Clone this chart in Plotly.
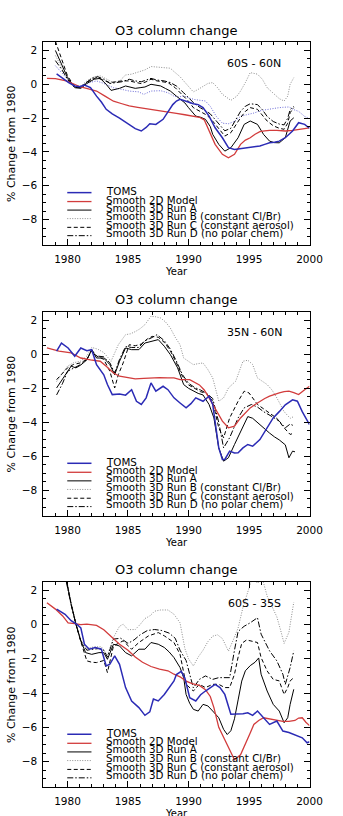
import plotly.graph_objects as go

# ---------------- data ----------------
region_labels = ["60S - 60N", "35N - 60N", "60S - 35S"]
series_names = ["TOMS", "Smooth 2D Model", "Smooth 3D Run A",
                "Smooth 3D Run B (constant Cl/Br)", "Smooth 3D Run C (constant aerosol)",
                "Smooth 3D Run D (no polar chem)"]

# Panel 1: 60S - 60N
p1_toms_x = [1979.1, 1979.6, 1980.1, 1980.6, 1981.0, 1981.4, 1981.9, 1982.4, 1982.8, 1983.2, 1983.7, 1984.3, 1984.9, 1985.6, 1986.1, 1986.5, 1986.8, 1987.3, 1987.9, 1988.3, 1988.7, 1989.0, 1989.3, 1989.8, 1990.4, 1990.8, 1991.2, 1991.7, 1992.2, 1992.8, 1993.3, 1993.8, 1994.4, 1994.9, 1995.4, 1995.9, 1996.3, 1996.7, 1997.1, 1997.5, 1998.0, 1998.6, 1999.1, 1999.6, 2000.0]
p1_toms_y = [0.62, 0.35, 0.1, -0.1, -0.15, -0.05, -0.2, -0.7, -1.05, -1.48, -1.75, -2.0, -2.3, -2.62, -2.76, -2.55, -2.33, -2.37, -2.07, -1.6, -1.2, -0.99, -0.89, -1.0, -1.15, -1.2, -1.38, -1.88, -2.57, -3.16, -3.75, -3.85, -3.8, -3.75, -3.7, -3.65, -3.55, -3.46, -3.42, -3.36, -3.16, -2.76, -2.27, -2.37, -2.6]
p1_2d_x = [1978.3, 1979.0, 1979.9, 1980.5, 1981.1, 1981.8, 1982.4, 1983.1, 1983.8, 1984.5, 1985.1, 1985.8, 1986.4, 1987.0, 1987.7, 1988.3, 1989.0, 1989.7, 1990.4, 1990.9, 1991.3, 1991.7, 1992.2, 1992.8, 1993.3, 1993.8, 1994.3, 1994.7, 1995.1, 1995.5, 1995.9, 1996.3, 1996.7, 1997.3, 1998.0, 1998.6, 1999.1, 1999.6, 2000.0]
p1_2d_y = [0.35, 0.33, 0.2, 0.0, -0.16, -0.28, -0.4, -0.7, -1.0, -1.15, -1.28, -1.36, -1.42, -1.5, -1.58, -1.64, -1.72, -1.8, -1.88, -1.95, -2.1, -2.76, -3.55, -4.14, -4.34, -4.14, -3.55, -3.3, -3.16, -2.95, -2.8, -2.75, -2.72, -2.73, -2.76, -2.72, -2.66, -2.6, -2.57]
p1_a_x = [1979.0, 1979.5, 1980.0, 1980.6, 1981.1, 1981.6, 1982.2, 1982.7, 1983.2, 1983.6, 1984.0, 1984.3, 1984.8, 1985.2, 1985.6, 1986.0, 1986.4, 1986.9, 1987.3, 1987.7, 1988.1, 1988.5, 1989.0, 1989.3, 1989.7, 1990.0, 1990.6, 1991.0, 1991.4, 1991.8, 1992.0, 1992.5, 1993.0, 1993.5, 1994.1, 1994.6, 1995.1, 1995.7, 1996.2, 1996.7, 1997.1, 1997.5, 1998.0, 1998.4, 1998.7]
p1_a_y = [2.0, 1.2, 0.4, -0.2, -0.24, 0.05, 0.3, 0.35, 0.0, -0.36, -0.3, -0.24, -0.1, -0.18, -0.24, -0.2, -0.16, 0.0, -0.05, -0.1, -0.25, -0.4, -0.7, -0.89, -1.1, -1.38, -1.88, -1.95, -2.07, -2.5, -2.96, -3.55, -3.95, -3.75, -3.16, -2.37, -2.17, -2.37, -2.96, -3.36, -3.45, -3.46, -3.16, -2.17, -1.98]
p1_b_x = [1979.0, 1979.5, 1980.0, 1980.6, 1981.1, 1981.6, 1982.2, 1982.7, 1983.2, 1983.8, 1984.3, 1984.8, 1985.3, 1985.8, 1986.4, 1986.9, 1987.5, 1988.0, 1988.5, 1988.8, 1989.3, 1989.6, 1990.0, 1990.4, 1990.8, 1991.2, 1991.6, 1992.0, 1992.4, 1992.8, 1993.2, 1993.5, 1994.0, 1994.3, 1994.7, 1995.1, 1995.7, 1996.1, 1996.5, 1997.0, 1997.5, 1997.9, 1998.2, 1998.4, 1998.7]
p1_b_y = [1.7, 1.0, 0.35, -0.15, -0.1, 0.2, 0.45, 0.5, 0.3, 0.1, 0.2, 0.55, 0.6, 0.7, 0.85, 1.05, 1.0, 0.95, 0.95, 0.75, 0.45, 0.2, -0.1, -0.45, -0.3, -0.1, 0.05, 0.1, -0.2, -0.59, -0.8, -0.95, -0.7, -0.4, 0.1, 0.69, 0.6, 0.3, -0.2, -0.55, -0.85, -0.99, -0.7, 0.0, 0.39]
p1_c_x = [1979.0, 1979.5, 1980.0, 1980.6, 1981.1, 1981.6, 1982.0, 1982.4, 1983.0, 1983.5, 1984.0, 1984.5, 1985.1, 1985.6, 1986.1, 1986.5, 1986.9, 1987.4, 1988.0, 1988.3, 1988.9, 1989.6, 1990.0, 1990.4, 1991.0, 1991.4, 1991.8, 1992.2, 1992.6, 1993.0, 1993.5, 1994.0, 1994.3, 1994.7, 1995.1, 1995.7, 1996.1, 1996.5, 1997.0, 1997.5, 1997.9, 1998.2, 1998.4, 1998.7]
p1_c_y = [2.55, 1.5, 0.5, -0.15, -0.2, 0.1, 0.3, 0.39, 0.25, 0.1, 0.15, 0.2, 0.2, 0.1, 0.04, 0.15, 0.3, 0.2, 0.15, 0.1, -0.2, -0.69, -1.0, -1.38, -1.6, -1.78, -2.0, -2.37, -2.75, -3.06, -2.86, -2.3, -1.98, -1.6, -1.38, -1.48, -1.8, -2.17, -2.45, -2.6, -2.66, -2.3, -1.68, -1.38]
p1_d_x = [1979.0, 1979.5, 1980.0, 1980.6, 1981.1, 1981.6, 1982.0, 1982.5, 1983.0, 1983.5, 1984.0, 1984.5, 1985.1, 1985.6, 1986.1, 1986.5, 1986.9, 1987.4, 1988.0, 1988.5, 1989.0, 1989.6, 1990.0, 1990.5, 1991.0, 1991.4, 1991.8, 1992.2, 1992.6, 1993.0, 1993.5, 1994.0, 1994.3, 1994.7, 1995.1, 1995.7, 1996.1, 1996.5, 1997.0, 1997.5, 1997.9, 1998.2, 1998.4, 1998.7]
p1_d_y = [1.4, 0.9, 0.3, -0.2, -0.15, 0.15, 0.35, 0.45, 0.3, 0.05, 0.1, 0.15, 0.3, 0.2, 0.15, 0.25, 0.35, 0.25, 0.2, 0.1, -0.1, -0.5, -0.8, -1.15, -1.4, -1.55, -1.75, -2.1, -2.45, -2.75, -2.6, -2.0, -1.6, -1.3, -1.15, -1.2, -1.5, -1.9, -2.2, -2.35, -2.4, -2.0, -1.5, -1.3]
p1_extra_x = [1979.0, 1979.6, 1980.2, 1980.7, 1981.2, 1981.8, 1982.4, 1983.0, 1983.8, 1984.5, 1985.1, 1985.9, 1986.3, 1986.9, 1987.7, 1988.3, 1988.8, 1989.2, 1989.6, 1990.0, 1990.5, 1991.0, 1991.4, 1991.8, 1992.3, 1992.8, 1993.3, 1993.8, 1994.3, 1994.8, 1995.4, 1996.0, 1996.7, 1997.3, 1997.8, 1998.3, 1998.7, 1999.1, 1999.6, 1999.9]
p1_extra_y = [1.1, 0.6, 0.15, -0.2, -0.15, 0.1, 0.2, 0.05, -0.2, -0.3, -0.4, -0.45, -0.6, -0.4, -0.38, -0.5, -0.7, -0.75, -0.69, -0.8, -0.9, -0.95, -0.99, -1.3, -1.9, -2.3, -2.33, -2.2, -1.9, -1.8, -1.7, -1.55, -1.45, -1.4, -1.36, -1.34, -1.5, -1.6, -1.9, -2.0]

# Panel 2: 35N - 60N
p2_toms_x = [1979.1, 1979.5, 1980.05, 1980.6, 1981.1, 1981.6, 1982.0, 1982.4, 1983.0, 1983.3, 1983.7, 1984.3, 1984.8, 1985.3, 1985.7, 1986.1, 1986.5, 1986.9, 1987.3, 1987.9, 1988.3, 1988.8, 1989.3, 1989.8, 1990.2, 1990.6, 1991.2, 1991.7, 1992.0, 1992.2, 1992.5, 1992.8, 1993.0, 1993.4, 1993.8, 1994.1, 1994.5, 1994.9, 1995.3, 1995.9, 1996.5, 1997.0, 1997.5, 1998.0, 1998.6, 1999.0, 1999.4, 1999.8, 2000.0]
p2_toms_y = [0.18, 0.66, 0.37, -0.12, 0.37, 0.21, 0.27, -0.61, -1.21, -1.78, -2.37, -2.33, -2.4, -2.08, -2.76, -2.95, -2.56, -1.68, -2.17, -1.88, -2.08, -2.56, -2.86, -3.15, -2.9, -2.56, -2.76, -2.46, -2.95, -3.93, -5.5, -6.18, -6.18, -5.69, -5.8, -5.79, -5.5, -5.3, -5.4, -5.01, -4.32, -3.74, -3.37, -2.97, -2.68, -2.76, -3.37, -3.93, -4.13]
p2_2d_x = [1978.3, 1979.3, 1980.3, 1981.1, 1981.9, 1982.7, 1983.2, 1983.8, 1984.3, 1985.0, 1985.6, 1986.3, 1986.9, 1987.6, 1988.3, 1988.8, 1989.3, 1990.1, 1990.9, 1991.3, 1991.7, 1992.2, 1992.8, 1993.3, 1993.8, 1994.3, 1994.7, 1995.1, 1995.5, 1995.9, 1996.3, 1996.7, 1997.1, 1997.5, 1997.9, 1998.3, 1998.7, 1999.1, 1999.6, 2000.0]
p2_2d_y = [0.37, 0.18, 0.08, -0.22, -0.33, -0.41, -0.7, -1.1, -1.29, -1.38, -1.45, -1.42, -1.39, -1.37, -1.39, -1.39, -1.49, -1.49, -1.8, -2.1, -2.56, -3.15, -3.93, -4.32, -4.22, -3.74, -3.45, -3.15, -2.95, -2.76, -2.6, -2.46, -2.35, -2.27, -2.2, -2.17, -2.25, -2.37, -2.08, -1.88]
p2_a_x = [1979.1, 1979.8, 1980.3, 1980.7, 1981.1, 1981.6, 1982.0, 1982.4, 1983.0, 1983.5, 1983.9, 1984.3, 1984.8, 1985.3, 1985.9, 1986.4, 1986.9, 1987.5, 1988.0, 1988.5, 1989.1, 1989.6, 1990.0, 1990.4, 1990.8, 1991.2, 1991.7, 1992.1, 1992.5, 1992.9, 1993.3, 1993.8, 1994.3, 1994.9, 1995.3, 1995.9, 1996.3, 1996.7, 1997.1, 1997.5, 1998.0, 1998.3, 1998.6, 1998.8]
p2_a_y = [-1.98, -1.2, -0.7, -0.8, -0.63, -0.33, 0.27, -0.22, -0.22, -0.61, -1.2, -0.41, 0.37, 0.27, 0.27, 0.66, 0.76, 0.86, 0.47, -0.02, -0.8, -1.78, -2.0, -2.17, -2.3, -2.39, -2.95, -3.74, -5.5, -6.28, -6.08, -5.3, -4.54, -3.66, -3.76, -4.15, -4.4, -4.63, -4.85, -5.03, -5.32, -6.08, -5.69, -5.73]
p2_b_x = [1979.1, 1979.6, 1980.0, 1980.5, 1981.1, 1981.6, 1982.0, 1982.5, 1983.0, 1983.6, 1984.2, 1984.8, 1985.2, 1985.6, 1986.0, 1986.4, 1986.9, 1987.3, 1987.7, 1988.1, 1988.5, 1988.9, 1989.3, 1989.6, 1990.0, 1990.4, 1990.8, 1991.2, 1991.6, 1992.0, 1992.3, 1992.5, 1992.9, 1993.3, 1993.9, 1994.5, 1994.9, 1995.3, 1995.7, 1996.1, 1996.5, 1996.9, 1997.3, 1997.9, 1998.4, 1998.7]
p2_b_y = [-1.6, -1.1, -0.7, -0.5, -0.4, -0.1, 0.4, 0.3, 0.1, -0.41, 0.56, 1.15, 1.2, 1.33, 1.5, 1.74, 2.23, 2.2, 2.13, 1.9, 1.54, 1.0, 0.56, -0.22, -0.4, -0.61, -0.55, -0.51, -0.9, -1.39, -2.2, -2.76, -2.56, -1.98, -1.58, -0.41, -0.35, -0.6, -1.39, -1.6, -1.78, -2.1, -2.56, -3.37, -3.76, -3.66]
p2_c_x = [1979.1, 1979.6, 1980.0, 1980.5, 1981.1, 1981.6, 1982.0, 1982.4, 1983.0, 1983.5, 1983.9, 1984.2, 1984.6, 1985.1, 1985.6, 1986.1, 1986.6, 1987.0, 1987.5, 1988.0, 1988.5, 1989.0, 1989.5, 1990.0, 1990.5, 1991.0, 1991.5, 1992.0, 1992.5, 1992.9, 1993.4, 1994.1, 1994.6, 1995.0, 1995.7, 1996.5, 1997.3, 1997.9, 1998.4, 1998.7]
p2_c_y = [-1.49, -1.1, -0.8, -0.6, -0.5, -0.3, 0.2, -0.1, -0.3, -1.0, -1.98, -1.2, -0.51, 0.56, 0.5, 0.6, 0.9, 1.05, 1.0, 0.7, 0.2, -0.5, -1.3, -1.8, -2.0, -2.2, -2.3, -2.76, -4.32, -4.91, -3.74, -2.76, -2.17, -2.27, -2.95, -3.37, -3.76, -4.32, -4.71, -4.63]
p2_d_x = [1979.1, 1979.6, 1980.0, 1980.5, 1981.1, 1981.6, 1982.0, 1982.4, 1983.0, 1983.5, 1983.9, 1984.3, 1984.8, 1985.3, 1985.9, 1986.4, 1986.9, 1987.4, 1988.0, 1988.5, 1989.0, 1989.5, 1990.0, 1990.5, 1991.0, 1991.5, 1992.0, 1992.5, 1992.9, 1993.4, 1994.1, 1994.6, 1995.2, 1995.7, 1996.2, 1997.0, 1997.5, 1998.0, 1998.4, 1998.7]
p2_d_y = [-2.39, -1.7, -1.0, -0.8, -0.6, -0.3, 0.25, -0.1, -0.15, -0.5, -1.1, -0.3, 0.45, 0.4, 0.4, 0.8, 0.95, 1.15, 0.8, 0.3, -0.4, -1.2, -1.7, -1.95, -2.1, -2.3, -2.6, -4.0, -5.5, -4.9, -3.74, -3.15, -2.95, -3.1, -3.37, -3.7, -3.93, -4.32, -4.1, -4.2]

# Panel 3: 60S - 35S
p3_toms_x = [1979.1, 1979.8, 1980.3, 1980.8, 1981.1, 1981.4, 1981.8, 1982.3, 1982.8, 1983.2, 1983.5, 1983.9, 1984.3, 1984.8, 1985.3, 1985.9, 1986.4, 1986.8, 1987.1, 1987.5, 1988.0, 1988.8, 1989.0, 1989.4, 1989.7, 1990.1, 1990.6, 1991.0, 1991.4, 1991.8, 1992.2, 1992.6, 1993.0, 1993.5, 1994.1, 1994.5, 1994.9, 1995.3, 1995.7, 1996.2, 1996.7, 1997.3, 1997.8, 1998.3, 1998.8, 1999.4, 1999.8, 2000.0]
p3_toms_y = [0.9, 0.6, 0.22, 0.0, -0.2, -1.15, -1.44, -1.34, -1.44, -2.42, -2.32, -1.83, -2.32, -3.68, -4.46, -4.85, -5.3, -5.1, -4.35, -4.46, -4.08, -3.29, -2.92, -2.73, -3.12, -4.27, -4.46, -4.1, -3.88, -3.7, -3.49, -3.68, -4.08, -5.24, -5.24, -5.2, -5.15, -5.3, -5.05, -5.44, -5.83, -5.63, -6.22, -6.3, -6.42, -6.61, -6.9, -6.84]
p3_2d_x = [1978.3, 1979.0, 1979.6, 1980.05, 1980.6, 1981.1, 1981.6, 1982.4, 1983.0, 1983.6, 1984.3, 1985.0, 1985.6, 1986.2, 1986.9, 1987.6, 1988.3, 1988.8, 1989.3, 1989.8, 1990.3, 1990.9, 1991.4, 1991.8, 1992.1, 1992.5, 1992.9, 1993.3, 1993.8, 1994.3, 1994.7, 1995.1, 1995.4, 1995.8, 1996.2, 1996.7, 1997.3, 1997.8, 1998.3, 1998.8, 1999.1, 1999.4, 1999.7, 2000.0]
p3_2d_y = [1.27, 0.9, 0.5, 0.1, 0.05, 0.0, 0.02, -0.05, -0.3, -0.7, -1.15, -1.5, -1.9, -2.2, -2.45, -2.6, -2.7, -2.9, -3.05, -3.3, -3.45, -3.55, -3.8, -4.2, -4.85, -6.0, -6.6, -7.12, -7.89, -7.6, -7.0, -6.33, -5.83, -5.6, -5.44, -5.5, -5.6, -5.65, -5.65, -5.6, -5.46, -5.44, -5.7, -5.9]
p3_a_x = [1979.1, 1979.5, 1979.9, 1980.3, 1980.7, 1981.1, 1981.5, 1982.0, 1982.6, 1983.0, 1983.3, 1983.8, 1984.3, 1984.8, 1985.3, 1985.9, 1986.4, 1986.9, 1987.5, 1988.0, 1988.4, 1988.8, 1989.3, 1989.6, 1989.8, 1990.1, 1990.4, 1990.8, 1991.2, 1991.6, 1992.0, 1992.5, 1992.9, 1993.2, 1993.5, 1993.8, 1994.1, 1994.4, 1994.7, 1995.1, 1995.5, 1995.8, 1996.0, 1996.5, 1997.0, 1997.5, 1997.9, 1998.2, 1998.4, 1998.7]
p3_a_y = [5.5, 4.0, 2.46, 1.19, 0.02, -0.95, -1.64, -1.74, -1.64, -1.64, -2.03, -1.15, -1.25, -1.64, -1.83, -1.44, -1.44, -1.05, -1.15, -1.34, -1.6, -1.93, -2.51, -3.1, -4.08, -4.6, -4.95, -5.05, -4.66, -4.75, -5.05, -5.44, -6.12, -6.42, -6.2, -5.5, -4.4, -3.3, -2.7, -2.4, -2.2, -1.95, -2.9, -3.88, -4.66, -5.05, -5.73, -5.44, -4.66, -3.78]
p3_b_x = [1979.1, 1979.5, 1979.9, 1980.3, 1980.7, 1981.1, 1981.6, 1982.2, 1982.8, 1983.3, 1983.8, 1984.3, 1984.6, 1985.0, 1985.6, 1986.0, 1986.4, 1986.8, 1987.2, 1987.7, 1988.3, 1988.8, 1989.3, 1989.7, 1990.0, 1990.4, 1990.8, 1991.2, 1991.6, 1992.0, 1992.4, 1992.8, 1993.3, 1993.7, 1994.1, 1994.5, 1994.9, 1995.3, 1995.7, 1996.1, 1996.5, 1996.9, 1997.3, 1997.6, 1997.9, 1998.3, 1998.7]
p3_b_y = [6.2, 4.5, 2.7, 1.3, 0.1, -0.9, -1.4, -1.3, -1.3, -1.8, -0.76, -0.1, 0.02, -0.3, -0.29, 0.0, 0.35, 0.5, 0.78, 0.85, 0.85, 0.6, 0.1, -1.4, -2.0, -2.42, -1.9, -1.5, -1.0, -0.68, -0.6, -0.82, -1.55, -0.9, -0.2, 1.0, 2.0, 2.8, 2.4, 2.7, 1.66, 1.0, 0.45, -0.3, -1.1, -0.45, 1.3]
p3_c_x = [1979.1, 1979.5, 1979.9, 1980.3, 1980.7, 1981.1, 1981.6, 1982.0, 1982.4, 1983.0, 1983.3, 1983.8, 1984.6, 1985.3, 1985.9, 1986.7, 1987.5, 1988.0, 1988.8, 1989.3, 1989.8, 1990.4, 1990.9, 1991.4, 1992.0, 1992.5, 1993.0, 1993.4, 1993.8, 1994.1, 1994.4, 1994.8, 1995.2, 1995.7, 1996.0, 1996.5, 1997.0, 1997.5, 1997.9, 1998.2, 1998.4, 1998.7]
p3_c_y = [6.0, 4.3, 2.6, 1.2, 0.0, -1.0, -2.12, -2.2, -2.22, -2.1, -2.8, -1.25, -0.95, -1.44, -1.05, -0.66, -0.47, -0.66, -1.05, -1.74, -3.49, -3.88, -3.49, -3.68, -3.49, -3.49, -3.68, -3.68, -2.9, -1.9, -1.1, -0.9, -0.95, -1.05, -1.93, -2.71, -3.2, -3.29, -4.08, -3.68, -3.29, -3.1]
p3_d_x = [1979.1, 1979.5, 1979.9, 1980.3, 1980.7, 1981.1, 1981.6, 1982.0, 1982.6, 1983.0, 1983.3, 1983.8, 1984.4, 1985.0, 1985.5, 1986.0, 1986.6, 1987.2, 1987.8, 1988.4, 1988.9, 1989.3, 1989.8, 1990.4, 1990.9, 1991.4, 1992.0, 1992.5, 1993.0, 1993.4, 1993.8, 1994.1, 1994.6, 1995.1, 1995.7, 1996.0, 1996.7, 1997.3, 1997.8, 1998.0, 1998.4, 1998.7]
p3_d_y = [5.8, 4.1, 2.5, 1.15, 0.0, -0.95, -1.5, -1.45, -1.4, -1.5, -1.9, -0.85, -0.8, -1.1, -0.9, -0.6, -0.35, -0.29, -0.35, -0.5, -0.8, -1.5, -2.1, -3.7, -3.2, -3.0, -3.2, -3.1, -3.1, -3.1, -1.5, -0.4, -0.1, 0.1, 0.4, -0.56, -1.54, -2.12, -2.9, -3.49, -2.51, -1.54]

panels = [
    dict(toms=(p1_toms_x, p1_toms_y), d2=(p1_2d_x, p1_2d_y), a=(p1_a_x, p1_a_y),
         b=(p1_b_x, p1_b_y), c=(p1_c_x, p1_c_y), d=(p1_d_x, p1_d_y), extra=(p1_extra_x, p1_extra_y)),
    dict(toms=(p2_toms_x, p2_toms_y), d2=(p2_2d_x, p2_2d_y), a=(p2_a_x, p2_a_y),
         b=(p2_b_x, p2_b_y), c=(p2_c_x, p2_c_y), d=(p2_d_x, p2_d_y), extra=None),
    dict(toms=(p3_toms_x, p3_toms_y), d2=(p3_2d_x, p3_2d_y), a=(p3_a_x, p3_a_y),
         b=(p3_b_x, p3_b_y), c=(p3_c_x, p3_c_y), d=(p3_d_x, p3_d_y), extra=None),
]

# ---------------- styles ----------------
BLUE = "#2b2bb5"
RED = "#d23c3c"
GRAY = "#8c8c8c"
LBLUE = "#6a6ad6"
FONT = "DejaVu Sans"
styles = {
    "b": dict(color=GRAY, width=1, dash="1px,1.5px"),
    "extra": dict(color=LBLUE, width=1, dash="1px,1.5px"),
    "c": dict(color="black", width=1, dash="4px,2.5px"),
    "d": dict(color="black", width=1, dash="6px,2px,1.5px,2px"),
    "a": dict(color="black", width=1),
    "d2": dict(color=RED, width=1.3),
    "toms": dict(color=BLUE, width=1.5),
}
order = ["b", "extra", "c", "d", "a", "d2", "toms"]
legend_keys = ["toms", "d2", "a", "b", "c", "d"]

W, H = 343, 816
x0px, x1px = 45, 321.7
tops = [42, 311.7, 581.7]
bots = [245, 516, 787.3]

fig = go.Figure()
layout = dict(width=W, height=H, margin=dict(l=0, r=0, t=0, b=0),
              paper_bgcolor="white", plot_bgcolor="white", showlegend=False,
              font=dict(family=FONT, color="black", size=10))
annotations = []
shapes = []

for i, p in enumerate(panels):
    sfx = "" if i == 0 else str(i + 1)
    xa, ya = "x" + sfx, "y" + sfx
    for k in order:
        if p.get(k) is None:
            continue
        xs, ys = p[k]
        fig.add_trace(go.Scatter(x=xs, y=ys, mode="lines", line=styles[k],
                                 xaxis=xa, yaxis=ya, hoverinfo="skip"))
    axcommon = dict(showline=True, linecolor="black", linewidth=1, mirror="ticks",
                    ticks="inside", ticklen=6, tickcolor="black", tickwidth=1,
                    showgrid=False, zeroline=False,
                    tickfont=dict(family=FONT, size=10.5, color="black"))
    layout["xaxis" + sfx] = dict(axcommon, range=[1978, 2000], tick0=1980, dtick=5,
                                 domain=[x0px / W, x1px / W], anchor=ya,
                                 ticklabelstandoff=4,
                                 minor=dict(ticks="inside", ticklen=3, dtick=1, tick0=1978,
                                            tickcolor="black", showgrid=False))
    layout["yaxis" + sfx] = dict(axcommon, range=[-9.5, 2.5], tick0=0, dtick=2,
                                 domain=[1 - bots[i] / H, 1 - tops[i] / H], anchor=xa,
                                 ticklabelstandoff=3,
                                 minor=dict(ticks="inside", ticklen=3, dtick=0.5,
                                            tickcolor="black", showgrid=False))
    xd, yd = xa + " domain", ya + " domain"
    annotations.append(dict(text="O3 column change", xref=xd, yref=yd, x=0.5, y=1,
                            yanchor="middle", yshift=12, showarrow=False,
                            font=dict(family=FONT, size=13)))
    annotations.append(dict(text="Year", xref=xd, yref=yd, x=0.5, y=0,
                            yanchor="middle", yshift=-26, showarrow=False,
                            font=dict(family=FONT, size=10)))
    annotations.append(dict(text="% Change from 1980", xref="paper", yref=yd,
                            x=12 / W, y=0.5, textangle=-90, xanchor="center",
                            yanchor="middle", showarrow=False,
                            font=dict(family=FONT, size=11)))
    annotations.append(dict(text=region_labels[i], xref=xa, yref=ya, x=1995.45, y=1.25,
                            xanchor="center", yanchor="middle", showarrow=False,
                            font=dict(family=FONT, size=11)))
    # legend drawn inside lower-left (tightly stacked as in the original)
    text_rows = [0.266, 0.223, 0.184, 0.143, 0.100, 0.059]
    line_rows = [0.258, 0.214, 0.172, 0.130, 0.087, 0.046]
    for j, k in enumerate(legend_keys):
        st = styles[k]
        shapes.append(dict(type="line", xref=xd, yref=yd, x0=0.09, x1=0.181,
                           y0=line_rows[j], y1=line_rows[j],
                           line=dict(color=st["color"], width=st["width"],
                                     dash=st.get("dash", "solid"))))
        annotations.append(dict(text=series_names[j], xref=xd, yref=yd, x=0.228,
                                y=text_rows[j], xanchor="left", yanchor="middle",
                                showarrow=False, font=dict(family=FONT, size=10.3)))

layout["annotations"] = annotations
layout["shapes"] = shapes
fig.update_layout(**layout)
fig.write_html("out.html")
